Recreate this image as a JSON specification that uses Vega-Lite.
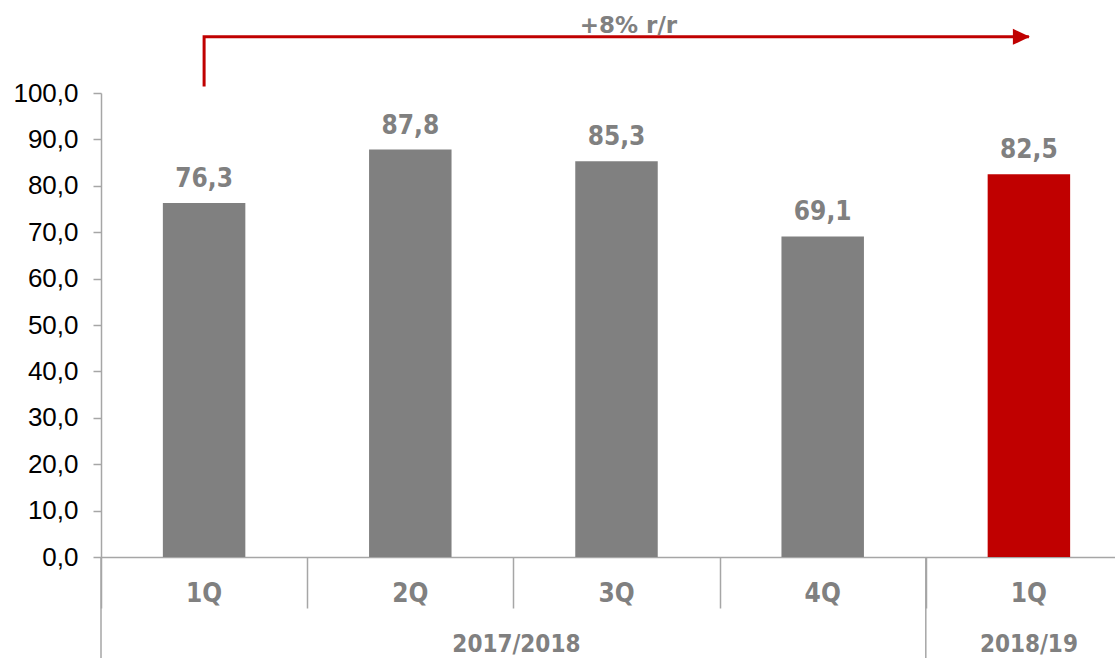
{
  "$schema": "https://vega.github.io/schema/vega-lite/v6.json",
  "width": 1014,
  "height": 464,
  "autosize": {"type": "none"},
  "padding": {"left": 101, "top": 93, "right": 0, "bottom": 101},
  "config": {
    "view": {"stroke": null},
    "locale": {"number": {"decimal": ",", "thousands": " ", "grouping": [3], "currency": ["", ""]}}
  },
  "datasets": {
    "bars": [
      {"cat": "1Q 2017/2018", "quarter": "1Q", "period": "2017/2018", "value": 76.3},
      {"cat": "2Q 2017/2018", "quarter": "2Q", "period": "2017/2018", "value": 87.8},
      {"cat": "3Q 2017/2018", "quarter": "3Q", "period": "2017/2018", "value": 85.3},
      {"cat": "4Q 2017/2018", "quarter": "4Q", "period": "2017/2018", "value": 69.1},
      {"cat": "1Q 2018/19", "quarter": "1Q", "period": "2018/19", "value": 82.5}
    ],
    "years": [
      {"cat": "3Q 2017/2018", "label": "2017/2018", "kind": "edge"},
      {"cat": "1Q 2018/19", "label": "2018/19", "kind": "mid"}
    ],
    "separators": [
      {"cat": "1Q 2017/2018"},
      {"cat": "1Q 2018/19"}
    ],
    "arrow": [
      {"cat": "1Q 2017/2018", "level": 101.4, "step": 1},
      {"cat": "1Q 2017/2018", "level": 112.1, "step": 2},
      {"cat": "1Q 2018/19", "level": 112.1, "step": 3}
    ],
    "note": [
      {"cat": "3Q 2017/2018", "level": 113.0, "label": "+8% r/r"}
    ]
  },
  "layer": [
    {
      "data": {"name": "bars"},
      "mark": {"type": "bar", "width": {"band": 0.4}},
      "encoding": {
        "x": {
          "field": "cat", "type": "nominal", "sort": null,
          "scale": {
            "domain": ["1Q 2017/2018", "2Q 2017/2018", "3Q 2017/2018", "4Q 2017/2018", "1Q 2018/19"],
            "range": [0, 1031], "paddingInner": 0, "paddingOuter": 0
          },
          "axis": {
            "title": null, "labels": false, "domainColor": "#a6a6a6", "domainWidth": 1.5,
            "tickColor": "#a6a6a6", "tickWidth": 1.5, "tickSize": 51, "tickBand": "extent"
          }
        },
        "y": {
          "field": "value", "type": "quantitative",
          "scale": {"domain": [0, 100], "nice": false, "zero": true},
          "axis": {
            "title": null, "values": [0, 10, 20, 30, 40, 50, 60, 70, 80, 90, 100], "format": ".1f",
            "grid": false, "labelFont": "Liberation Sans", "labelFontSize": 26, "labelColor": "#000000",
            "labelPadding": 15, "tickSize": 8, "tickColor": "#a6a6a6", "tickWidth": 1.5,
            "domainColor": "#a6a6a6", "domainWidth": 1.5
          }
        },
        "color": {
          "field": "period", "type": "nominal",
          "scale": {"domain": ["2017/2018", "2018/19"], "range": ["#808080", "#C00000"]},
          "legend": null
        }
      }
    },
    {
      "data": {"name": "bars"},
      "mark": {"type": "text", "baseline": "alphabetic", "dy": -16, "font": "DejaVu Sans Condensed, DejaVu Sans", "fontWeight": "bold", "fontSize": 26, "color": "#808080"},
      "encoding": {
        "x": {"field": "cat", "type": "nominal", "sort": null},
        "y": {"field": "value", "type": "quantitative"},
        "text": {"field": "value", "type": "quantitative", "format": ".1f"}
      }
    },
    {
      "data": {"name": "bars"},
      "mark": {"type": "text", "baseline": "alphabetic", "font": "DejaVu Sans Condensed, DejaVu Sans", "fontWeight": "bold", "fontSize": 26, "color": "#808080"},
      "encoding": {
        "x": {"field": "cat", "type": "nominal", "sort": null},
        "y": {"datum": -9.6},
        "text": {"field": "quarter"}
      }
    },
    {
      "data": {"name": "years"},
      "transform": [{"filter": "datum.kind === 'edge'"}],
      "mark": {"type": "text", "baseline": "alphabetic", "dx": 3, "font": "DejaVu Sans Condensed, DejaVu Sans", "fontWeight": "bold", "fontSize": 24, "color": "#808080"},
      "encoding": {
        "x": {"field": "cat", "type": "nominal", "sort": null, "bandPosition": 0},
        "y": {"datum": -20.4},
        "text": {"field": "label"}
      }
    },
    {
      "data": {"name": "years"},
      "transform": [{"filter": "datum.kind === 'mid'"}],
      "mark": {"type": "text", "baseline": "alphabetic", "font": "DejaVu Sans Condensed, DejaVu Sans", "fontWeight": "bold", "fontSize": 24, "color": "#808080"},
      "encoding": {
        "x": {"field": "cat", "type": "nominal", "sort": null},
        "y": {"datum": -20.4},
        "text": {"field": "label"}
      }
    },
    {
      "data": {"name": "separators"},
      "mark": {"type": "rule", "color": "#a6a6a6", "strokeWidth": 1.5},
      "encoding": {
        "x": {"field": "cat", "type": "nominal", "sort": null, "bandPosition": 0},
        "y": {"datum": 0},
        "y2": {"datum": -21.8}
      }
    },
    {
      "data": {"name": "arrow"},
      "mark": {"type": "line", "color": "#C00000", "strokeWidth": 3, "strokeJoin": "miter", "strokeCap": "butt"},
      "encoding": {
        "x": {"field": "cat", "type": "nominal", "sort": null},
        "y": {"field": "level", "type": "quantitative"},
        "order": {"field": "step", "type": "quantitative"}
      }
    },
    {
      "data": {"name": "arrow"},
      "transform": [{"filter": "datum.step === 3"}],
      "mark": {"type": "point", "shape": "M -1 -0.5 L 0.06 0 L -1 0.5 Z", "size": 1024, "filled": true, "color": "#C00000", "opacity": 1, "strokeWidth": 0},
      "encoding": {
        "x": {"field": "cat", "type": "nominal", "sort": null},
        "y": {"field": "level", "type": "quantitative"}
      }
    },
    {
      "data": {"name": "note"},
      "mark": {"type": "text", "baseline": "alphabetic", "dx": 12, "font": "DejaVu Sans", "fontWeight": "bold", "fontSize": 23, "color": "#808080"},
      "encoding": {
        "x": {"field": "cat", "type": "nominal", "sort": null},
        "y": {"field": "level", "type": "quantitative"},
        "text": {"field": "label"}
      }
    }
  ]
}
